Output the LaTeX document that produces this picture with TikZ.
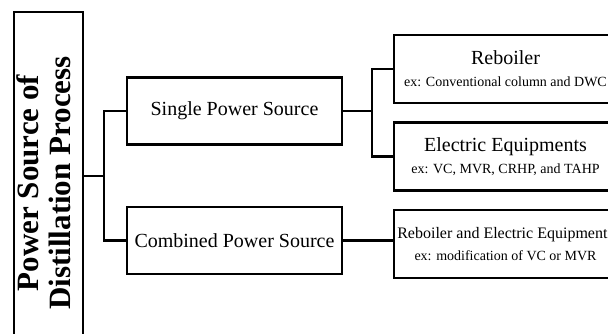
\documentclass[tikz,border=0pt]{standalone}
\usepackage{fontspec}
\setmainfont{Liberation Serif}
\usepackage{tikz}
\usetikzlibrary{positioning,calc}

\begin{document}
\begin{tikzpicture}[
  x=1pt,y=-1pt,
  node distance=17pt and 44pt,
  box/.style={draw=black,line width=2.5pt,inner sep=2pt,align=center,minimum height=67pt},
  mainbox/.style={box,minimum width=215pt,font=\fontsize{20}{24}\selectfont},
  subbox/.style={box,minimum width=223pt,minimum height=68pt,font=\fontsize{14}{22}\selectfont},
  link/.style={line width=2.5pt}
]
\useasboundingbox (0,0) rectangle (608,333);
\clip (0,0) rectangle (608,333);
\node[box,minimum width=69pt,minimum height=342pt] (title) at (48.5,183)
  {\rotatebox{90}{\fontsize{31}{32}\selectfont\bfseries\begin{tabular}{@{}c@{}}Power Source of\\Distillation Process\end{tabular}}};
\node[mainbox] (single) at (234.5,111) {Single Power Source};
\node[mainbox,below=60pt of single] (combined) {Combined Power Source};
\node[subbox] (reboiler) at (505.5,69) {{\fontsize{20}{22}\selectfont Reboiler}\\ex: Conventional column and DWC};
\node[subbox,below=of reboiler] (electric) {{\fontsize{20}{22}\selectfont Electric Equipments}\\ex: VC, MVR, CRHP, and TAHP};
\node[subbox,below=of electric] (both) {{\fontsize{16}{22}\selectfont Reboiler and Electric Equipments}\\ex: modification of VC or MVR};
% forks
\coordinate (fork) at ($(single.west)!0.5!(combined.west)+(-22,0)$);
\coordinate (fork2) at ($(reboiler.west)!0.5!(electric.west)+(-21,0)$);
\draw[link] (title.east |- fork) -- (fork);
\draw[link] (single.west) -| (fork) |- (combined.west);
\draw[link] (single.east) -- (single.east -| fork2);
\draw[link] (reboiler.west) -| (fork2) |- (electric.west);
\draw[link] (combined.east) -- (combined.east -| both.west);
\end{tikzpicture}
\end{document}
